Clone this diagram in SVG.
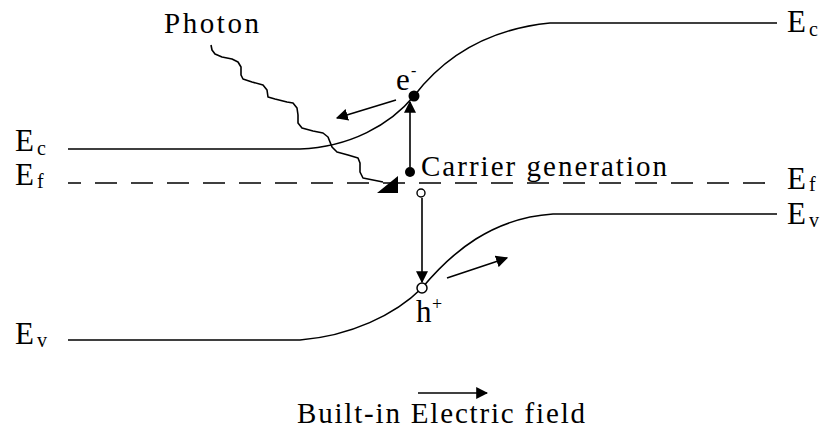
<svg xmlns="http://www.w3.org/2000/svg" width="825" height="431" viewBox="0 0 825 431">
<style>
.ln{fill:none;stroke:#000;stroke-width:1.6}
.dash{fill:none;stroke:#000;stroke-width:1.6;stroke-dasharray:22 14;stroke-dashoffset:9}
.t{font-family:"Liberation Serif","Times New Roman",serif;fill:#000}
.E{font-size:31px}
.sub{font-size:20px}
.lbl{font-size:29px}
.ar{fill:none;stroke:#000;stroke-width:1.6;marker-end:url(#ah)}
</style>
<defs>
<marker id="ah" viewBox="0 0 10 10" refX="9" refY="5" markerWidth="12" markerHeight="12" markerUnits="userSpaceOnUse" orient="auto">
<path d="M0,0 L10,5 L0,10 Z" fill="#000"/>
</marker>
</defs>
<rect width="825" height="431" fill="#fff"/>
<g id="bands">
<path id="Ec-band" class="ln" d="M68,149 L300,149 C350,147 390,125 414,96 C440,62 480,30 550,23 L777,23"/>
<path id="Ef-level" class="dash" d="M68,183 L777,183"/>
<path id="Ev-band" class="ln" d="M68,340 L300,340 C350,336 395,315 422,288 C452,252 492,218 553,214 L777,214"/>
</g>
<g id="labels">
<text class="t E" x="15" y="151">E</text><text class="t sub" x="37" y="155">c</text>
<text class="t E" x="15" y="185">E</text><text class="t sub" x="37" y="188">f</text>
<text class="t E" x="15" y="344">E</text><text class="t sub" x="37" y="347">v</text>
<text class="t E" x="787" y="32">E</text><text class="t sub" x="809" y="36">c</text>
<text class="t E" x="787" y="189">E</text><text class="t sub" x="809" y="191">f</text>
<text class="t E" x="787" y="224">E</text><text class="t sub" x="809" y="227">v</text>
</g>
<g id="photon">
<path class="ln" stroke-linejoin="round" d="M211,45 L212,50 L215,54 L222,57 L232,59 L238,62 L241,67 L241,75 L243,79 L252,82 L263,85 L267,90 L268,97 L275,99 L287,102 L293,103 L297,108 L298,115 L298,123 L302,128 L313,131 L323,133 L328,137 L330,142 L332,147 L337,152 L348,155 L358,158 L360,163 L360,172 L363,178 L373,180 L383,182"/>
<path d="M377,193 L398,176 L398,193 Z" fill="#000"/>
<text class="t lbl" x="164" y="33" textLength="95" lengthAdjust="spacing">Photon</text>
</g>
<g id="electron">
<circle cx="414" cy="96" r="5.5" fill="#000"/>
<text class="t lbl" x="396" y="90" style="font-size:31px">e</text>
<text class="t" x="411" y="76" style="font-size:16px">-</text>
</g>
<g id="generation">
<circle cx="410" cy="172" r="5" fill="#000"/>
<circle cx="421" cy="193" r="4" fill="#fff" stroke="#000" stroke-width="1.4"/>
<text class="t lbl" x="421" y="176" textLength="246" lengthAdjust="spacing">Carrier generation</text>
</g>
<g id="hole">
<circle cx="422" cy="288" r="5" fill="#fff" stroke="#000" stroke-width="1.5"/>
<text class="t lbl" x="416" y="322" style="font-size:31px">h</text>
<text class="t" x="432" y="310" style="font-size:18px">+</text>
</g>
<g id="connectors">
<line class="ar" x1="410" y1="167" x2="410" y2="102"/>
<line class="ar" x1="422" y1="198" x2="422" y2="282"/>
<line class="ar" x1="396" y1="100" x2="337" y2="118"/>
<line class="ar" x1="447" y1="278" x2="507" y2="258"/>
<line class="ar" x1="418" y1="393" x2="487" y2="393"/>
</g>
<g id="field">
<text class="t lbl" x="297" y="423" textLength="288" lengthAdjust="spacing">Built-in Electric field</text>
</g>
</svg>
